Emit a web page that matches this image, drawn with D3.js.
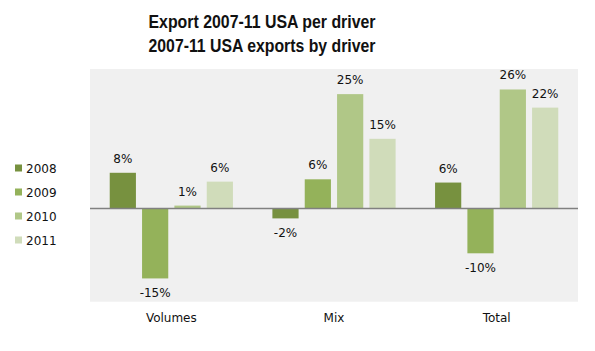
<!DOCTYPE html>
<html><head><meta charset="utf-8">
<script src="https://cdn.jsdelivr.net/npm/d3@7"></script>
<style>body{margin:0;background:#fff}svg{display:block}</style>
</head><body>
<svg id="c" width="595" height="351"></svg>
<script>
const categories = ["Volumes", "Mix", "Total"];
const years = ["2008", "2009", "2010", "2011"];
const v2008 = [0.077, -0.021, 0.056];
const v2009 = [-0.150, 0.063, -0.096];
const v2010 = [0.0065, 0.246, 0.256];
const v2011 = [0.058, 0.150, 0.217];
const titleLines = ["Export 2007-11 USA per driver", "2007-11 USA exports by driver"];
const colors = ["#77913f", "#94b25a", "#b0c787", "#d0dcba"];

const series = [v2008, v2009, v2010, v2011];
const svg = d3.select("#c");
const P = {l: 90, r: 578, t: 69, b: 301.7};

svg.append("rect").attr("x", P.l).attr("y", P.t).attr("width", P.r - P.l).attr("height", P.b - P.t).attr("fill", "#f0f0f0");

const x0 = d3.scaleBand().domain(categories).range([P.l, P.r]).paddingInner(0).paddingOuter(0);
const x1 = d3.scaleBand().domain(years).range([0, x0.bandwidth()]).paddingInner(0.19).paddingOuter(0.61);
const y = d3.scaleLinear().domain([-0.2, 0.3]).range([P.b, P.t]);
const fmt = d3.formatLocale({decimal: ".", thousands: ",", grouping: [3], currency: ["", ""], minus: "-", percent: "%"}).format(".0%");

const data = [];
categories.forEach((c, i) => years.forEach((yr, j) => data.push({c, yr, j, v: series[j][i]})));

svg.selectAll("rect.bar").data(data).join("rect").attr("class", "bar")
  .attr("x", d => x0(d.c) + x1(d.yr))
  .attr("width", x1.bandwidth())
  .attr("y", d => y(Math.max(0, d.v)))
  .attr("height", d => Math.abs(y(d.v) - y(0)))
  .attr("fill", d => colors[d.j]);

svg.append("line").attr("x1", P.l).attr("x2", P.r).attr("y1", y(0)).attr("y2", y(0))
  .attr("stroke", "#808080").attr("stroke-width", 1.5);

svg.selectAll("text.lbl").data(data).join("text").attr("class", "lbl")
  .attr("x", d => x0(d.c) + x1(d.yr) + x1.bandwidth() / 2)
  .attr("y", d => d.v >= 0 ? y(d.v) - 10 : y(d.v) + 19)
  .attr("text-anchor", "middle")
  .attr("font-family", "DejaVu Sans, Verdana, sans-serif").attr("font-size", 12).attr("fill", "#111")
  .text(d => fmt(d.v));

svg.selectAll("text.cat").data(categories).join("text").attr("class", "cat")
  .attr("x", d => x0(d) + x0.bandwidth() / 2).attr("y", 322)
  .attr("text-anchor", "middle")
  .attr("font-family", "DejaVu Sans, Verdana, sans-serif").attr("font-size", 12).attr("fill", "#111")
  .text(d => d);

const leg = svg.selectAll("g.leg").data(years).join("g").attr("class", "leg")
  .attr("transform", (d, i) => `translate(15,${168 + i * 24})`);
leg.append("rect").attr("x", 0).attr("y", -3.5).attr("width", 7).attr("height", 7).attr("fill", (d, i) => colors[i]);
leg.append("text").attr("x", 11).attr("y", 4.5)
  .attr("font-family", "DejaVu Sans, Verdana, sans-serif").attr("font-size", 12).attr("fill", "#111")
  .text(d => d);

svg.selectAll("text.title").data(titleLines).join("text").attr("class", "title")
  .attr("x", 262).attr("y", (d, i) => 28 + i * 23.5)
  .attr("text-anchor", "middle")
  .attr("textLength", 227).attr("lengthAdjust", "spacingAndGlyphs")
  .attr("font-family", "Liberation Sans Narrow, Arial Narrow, Liberation Sans, sans-serif").attr("font-weight", "bold")
  .attr("font-size", 18).attr("fill", "#111")
  .text(d => d);
</script>
</body></html>
